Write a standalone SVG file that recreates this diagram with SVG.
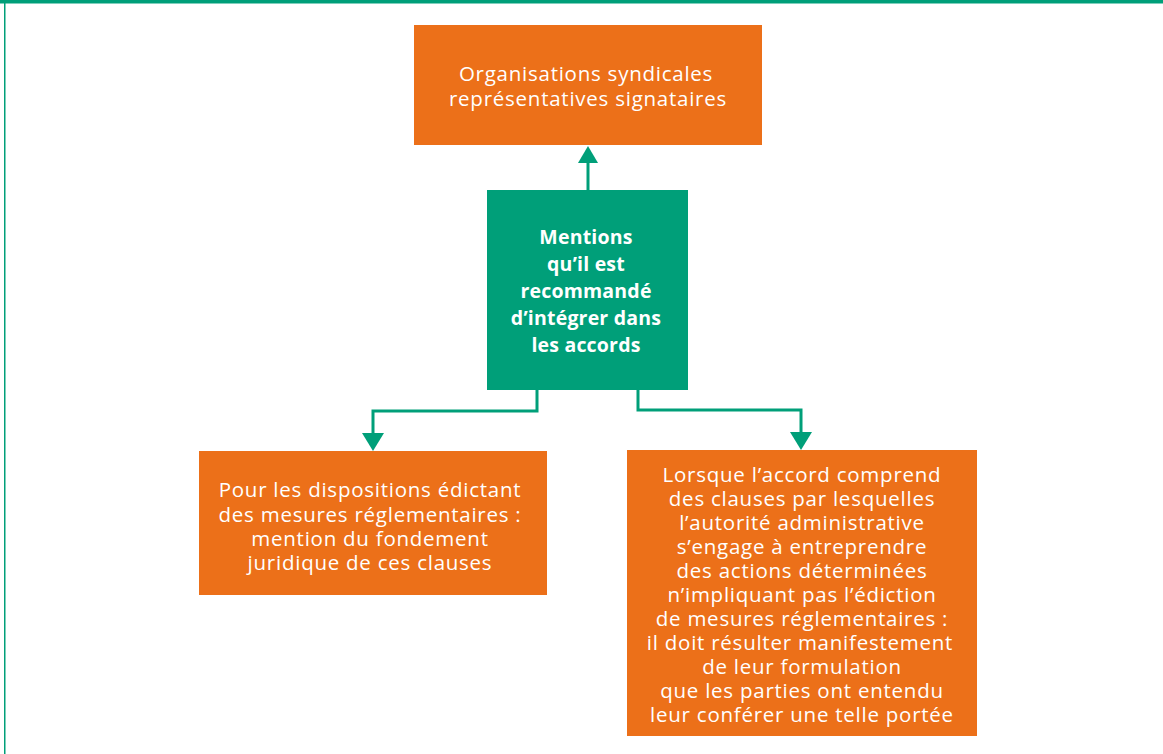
<svg xmlns="http://www.w3.org/2000/svg" width="1163" height="754" viewBox="0 0 1163 754">
<style>
.or{fill:#EC7019}
.gr{fill:#009F79}
.t{font-family:"Open Sans",Lato,sans-serif;font-size:20.5px;letter-spacing:0.75px;fill:#fff;text-anchor:middle}
.b{font-family:"Open Sans",Lato,sans-serif;font-size:19.5px;letter-spacing:0.2px;font-weight:bold;fill:#fff;text-anchor:middle}
.c{fill:none;stroke:#009F79;stroke-width:3}
</style>
<rect width="1163" height="754" fill="#fff"/>
<g id="frame">
<rect x="0" y="0" width="1163" height="3" fill="#009F79"/>
<rect x="0" y="3" width="1163" height="1" fill="#7fcfbc"/>
<rect x="4" y="0" width="1.5" height="754" fill="#009F79"/>
</g>
<g id="connectors">
<line class="c" x1="588" y1="190" x2="588" y2="162"/>
<path d="M578,163 L588,146 L598,163 z" fill="#009F79"/>
<polyline class="c" points="537,390 537,411 373,411 373,434"/>
<path d="M362,433 L373,451 L384,433 z" fill="#009F79"/>
<polyline class="c" points="638,390 638,410 801,410 801,433"/>
<path d="M790,432 L801,450 L812,432 z" fill="#009F79"/>
</g>
<g id="n-top">
<rect class="or" x="414" y="25" width="348" height="120"/>
<text class="t" x="586" y="81">Organisations syndicales</text>
<text class="t" x="588" y="106">représentatives signataires</text>
</g>
<g id="n-center">
<rect class="gr" x="487" y="190" width="201" height="200"/>
<text class="b" x="586" y="244">Mentions</text>
<text class="b" x="586" y="271">qu’il est</text>
<text class="b" x="586" y="298">recommandé</text>
<text class="b" x="586" y="325">d’intégrer dans</text>
<text class="b" x="586" y="352">les accords</text>
</g>
<g id="n-left">
<rect class="or" x="199" y="451" width="348" height="144"/>
<text class="t" x="370" y="497">Pour les dispositions édictant</text>
<text class="t" x="370" y="522">des mesures réglementaires :</text>
<text class="t" x="370" y="546">mention du fondement</text>
<text class="t" x="370" y="570">juridique de ces clauses</text>
</g>
<g id="n-right">
<rect class="or" x="627" y="450" width="350" height="286"/>
<text class="t" x="802" y="482">Lorsque l’accord comprend</text>
<text class="t" x="802" y="506">des clauses par lesquelles</text>
<text class="t" x="802" y="530">l’autorité administrative</text>
<text class="t" x="802" y="554">s’engage à entreprendre</text>
<text class="t" x="802" y="578">des actions déterminées</text>
<text class="t" x="802" y="602">n’impliquant pas l’édiction</text>
<text class="t" x="802" y="626">de mesures réglementaires :</text>
<text class="t" x="800" y="650">il doit résulter manifestement</text>
<text class="t" x="802" y="674">de leur formulation</text>
<text class="t" x="802" y="698">que les parties ont entendu</text>
<text class="t" x="802" y="722">leur conférer une telle portée</text>
</g>
</svg>
